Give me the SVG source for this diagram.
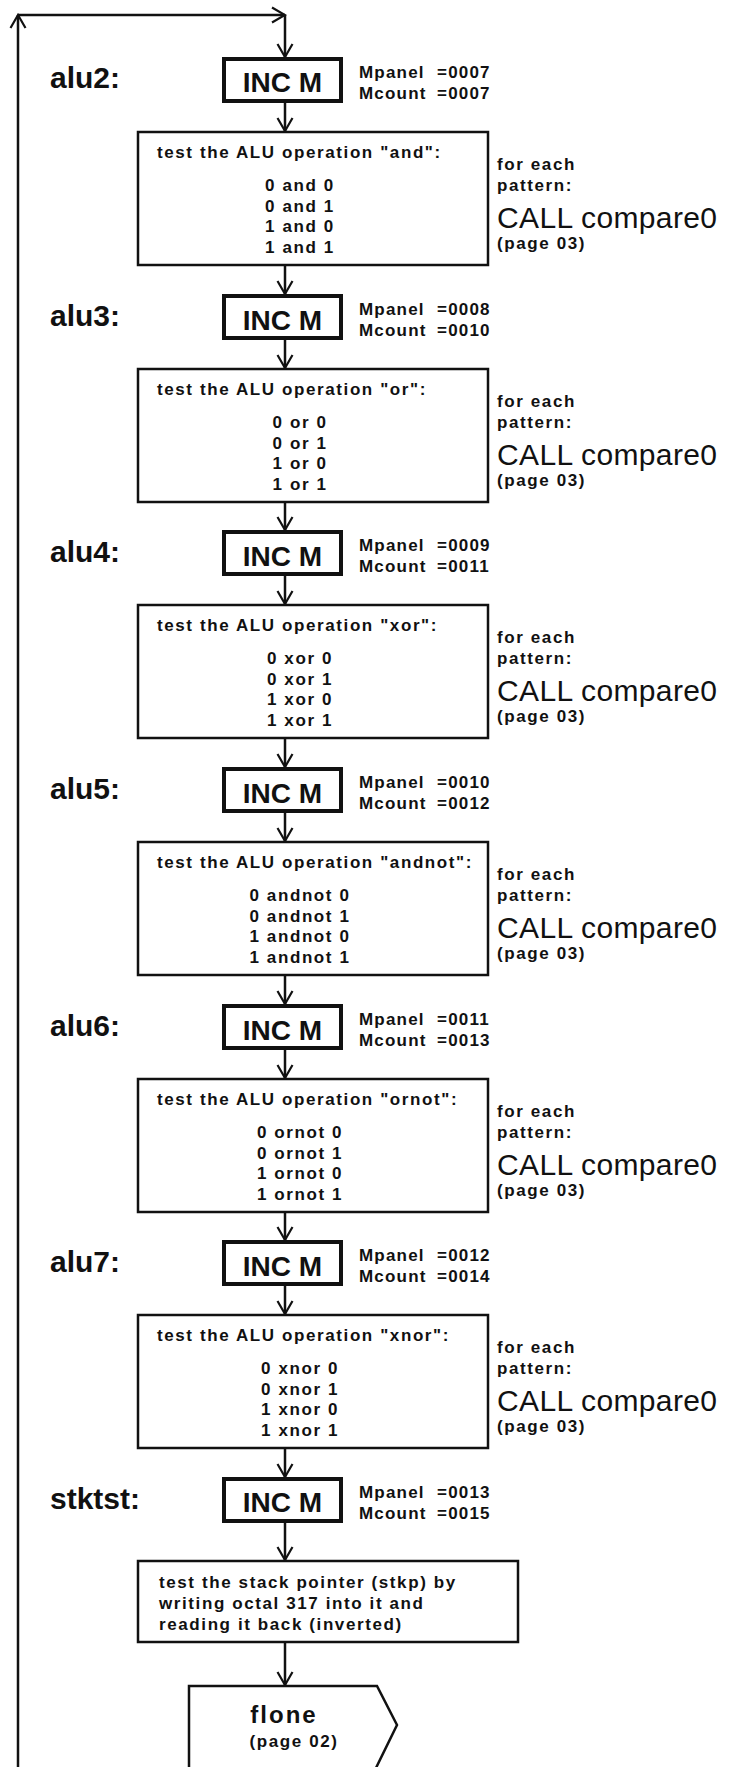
<svg xmlns="http://www.w3.org/2000/svg" width="738" height="1767" viewBox="0 0 738 1767">
<style>
text{font-family:"Liberation Sans",Arial,sans-serif;fill:#111}
.lbl{font-size:30px;font-weight:bold}
.inc{font-size:28px;font-weight:bold;text-anchor:middle}
.m{font-size:17px;font-weight:bold;letter-spacing:1.2px}
.t{font-size:17px;font-weight:bold;letter-spacing:1.6px}
.c{text-anchor:middle}
.call{font-size:30px}
.fl{font-size:24px;font-weight:bold;letter-spacing:2px;text-anchor:middle}
.ib{fill:#fff;stroke:#111;stroke-width:4}
.tb{fill:#fff;stroke:#111;stroke-width:2.5}
.conn path{fill:none;stroke:#111;stroke-width:2.5;marker-end:url(#ah)}
</style>
<defs>
<marker id="ah" viewBox="-16 -9 18 18" markerWidth="18" markerHeight="18" refX="0" refY="0" orient="auto" markerUnits="userSpaceOnUse">
<path d="M-13,-7.5 L0,0 L-13,7.5" fill="none" stroke="#111" stroke-width="2.2"/>
</marker>
</defs>
<rect width="738" height="1767" fill="#fff"/>

<g id="connectors" class="conn">
<path d="M18,1767 L18,15"/>
<path d="M18,15 L285,15"/>
<path d="M285,15 L285,57"/>
<path d="M285,103 L285,131"/>
<path d="M285,266 L285,294"/>
<path d="M285,340 L285,368"/>
<path d="M285,503 L285,530"/>
<path d="M285,576 L285,604"/>
<path d="M285,739 L285,767"/>
<path d="M285,813 L285,841"/>
<path d="M285,976 L285,1004"/>
<path d="M285,1050 L285,1078"/>
<path d="M285,1213 L285,1240"/>
<path d="M285,1286 L285,1314"/>
<path d="M285,1449 L285,1477"/>
<path d="M285,1523 L285,1560"/>
<path d="M285,1643 L285,1685"/>
</g>

<g id="alu2">
<text class="lbl" x="50" y="88">alu2:</text>
<rect class="ib" x="224" y="59" width="117" height="42"/>
<text class="inc" x="282.5" y="92">INC M</text>
<text class="m" x="359" y="78">Mpanel <tspan x="437">=0007</tspan></text>
<text class="m" x="359" y="99">Mcount <tspan x="437">=0007</tspan></text>
</g>
<g id="test-and">
<rect class="tb" x="138" y="132" width="350" height="133"/>
<text class="t" x="157" y="158">test the ALU operation "and":</text>
<text class="t c" x="300" y="191">0 and 0</text>
<text class="t c" x="300" y="211.5">0 and 1</text>
<text class="t c" x="300" y="232">1 and 0</text>
<text class="t c" x="300" y="252.5">1 and 1</text>
<text class="t" x="497" y="170">for each</text>
<text class="t" x="497" y="191">pattern:</text>
<text class="call" x="497" y="228" textLength="220">CALL compare0</text>
<text class="t" x="497" y="249">(page 03)</text>
</g>

<g id="alu3">
<text class="lbl" x="50" y="326">alu3:</text>
<rect class="ib" x="224" y="296" width="117" height="42"/>
<text class="inc" x="282.5" y="330">INC M</text>
<text class="m" x="359" y="315">Mpanel <tspan x="437">=0008</tspan></text>
<text class="m" x="359" y="336">Mcount <tspan x="437">=0010</tspan></text>
</g>
<g id="test-or">
<rect class="tb" x="138" y="369" width="350" height="133"/>
<text class="t" x="157" y="395">test the ALU operation "or":</text>
<text class="t c" x="300" y="428">0 or 0</text>
<text class="t c" x="300" y="448.5">0 or 1</text>
<text class="t c" x="300" y="469">1 or 0</text>
<text class="t c" x="300" y="489.5">1 or 1</text>
<text class="t" x="497" y="407">for each</text>
<text class="t" x="497" y="428">pattern:</text>
<text class="call" x="497" y="465" textLength="220">CALL compare0</text>
<text class="t" x="497" y="486">(page 03)</text>
</g>

<g id="alu4">
<text class="lbl" x="50" y="562">alu4:</text>
<rect class="ib" x="224" y="532" width="117" height="42"/>
<text class="inc" x="282.5" y="566">INC M</text>
<text class="m" x="359" y="551">Mpanel <tspan x="437">=0009</tspan></text>
<text class="m" x="359" y="572">Mcount <tspan x="437">=0011</tspan></text>
</g>
<g id="test-xor">
<rect class="tb" x="138" y="605" width="350" height="133"/>
<text class="t" x="157" y="631">test the ALU operation "xor":</text>
<text class="t c" x="300" y="664">0 xor 0</text>
<text class="t c" x="300" y="684.5">0 xor 1</text>
<text class="t c" x="300" y="705">1 xor 0</text>
<text class="t c" x="300" y="725.5">1 xor 1</text>
<text class="t" x="497" y="643">for each</text>
<text class="t" x="497" y="664">pattern:</text>
<text class="call" x="497" y="701" textLength="220">CALL compare0</text>
<text class="t" x="497" y="722">(page 03)</text>
</g>

<g id="alu5">
<text class="lbl" x="50" y="799">alu5:</text>
<rect class="ib" x="224" y="769" width="117" height="42"/>
<text class="inc" x="282.5" y="803">INC M</text>
<text class="m" x="359" y="788">Mpanel <tspan x="437">=0010</tspan></text>
<text class="m" x="359" y="809">Mcount <tspan x="437">=0012</tspan></text>
</g>
<g id="test-andnot">
<rect class="tb" x="138" y="842" width="350" height="133"/>
<text class="t" x="157" y="868">test the ALU operation "andnot":</text>
<text class="t c" x="300" y="901">0 andnot 0</text>
<text class="t c" x="300" y="921.5">0 andnot 1</text>
<text class="t c" x="300" y="942">1 andnot 0</text>
<text class="t c" x="300" y="962.5">1 andnot 1</text>
<text class="t" x="497" y="880">for each</text>
<text class="t" x="497" y="901">pattern:</text>
<text class="call" x="497" y="938" textLength="220">CALL compare0</text>
<text class="t" x="497" y="959">(page 03)</text>
</g>

<g id="alu6">
<text class="lbl" x="50" y="1036">alu6:</text>
<rect class="ib" x="224" y="1006" width="117" height="42"/>
<text class="inc" x="282.5" y="1040">INC M</text>
<text class="m" x="359" y="1025">Mpanel <tspan x="437">=0011</tspan></text>
<text class="m" x="359" y="1046">Mcount <tspan x="437">=0013</tspan></text>
</g>
<g id="test-ornot">
<rect class="tb" x="138" y="1079" width="350" height="133"/>
<text class="t" x="157" y="1105">test the ALU operation "ornot":</text>
<text class="t c" x="300" y="1138">0 ornot 0</text>
<text class="t c" x="300" y="1158.5">0 ornot 1</text>
<text class="t c" x="300" y="1179">1 ornot 0</text>
<text class="t c" x="300" y="1199.5">1 ornot 1</text>
<text class="t" x="497" y="1117">for each</text>
<text class="t" x="497" y="1138">pattern:</text>
<text class="call" x="497" y="1175" textLength="220">CALL compare0</text>
<text class="t" x="497" y="1196">(page 03)</text>
</g>

<g id="alu7">
<text class="lbl" x="50" y="1272">alu7:</text>
<rect class="ib" x="224" y="1242" width="117" height="42"/>
<text class="inc" x="282.5" y="1276">INC M</text>
<text class="m" x="359" y="1261">Mpanel <tspan x="437">=0012</tspan></text>
<text class="m" x="359" y="1282">Mcount <tspan x="437">=0014</tspan></text>
</g>
<g id="test-xnor">
<rect class="tb" x="138" y="1315" width="350" height="133"/>
<text class="t" x="157" y="1341">test the ALU operation "xnor":</text>
<text class="t c" x="300" y="1374">0 xnor 0</text>
<text class="t c" x="300" y="1394.5">0 xnor 1</text>
<text class="t c" x="300" y="1415">1 xnor 0</text>
<text class="t c" x="300" y="1435.5">1 xnor 1</text>
<text class="t" x="497" y="1353">for each</text>
<text class="t" x="497" y="1374">pattern:</text>
<text class="call" x="497" y="1411" textLength="220">CALL compare0</text>
<text class="t" x="497" y="1432">(page 03)</text>
</g>

<g id="stktst">
<text class="lbl" x="50" y="1509">stktst:</text>
<rect class="ib" x="224" y="1479" width="117" height="42"/>
<text class="inc" x="282.5" y="1512">INC M</text>
<text class="m" x="359" y="1498">Mpanel <tspan x="437">=0013</tspan></text>
<text class="m" x="359" y="1519">Mcount <tspan x="437">=0015</tspan></text>
</g>
<g id="test-stack">
<rect class="tb" x="138" y="1561" width="380" height="81"/>
<text class="t" x="159" y="1588">test the stack pointer (stkp) by</text>
<text class="t" x="159" y="1609">writing octal 317 into it and</text>
<text class="t" x="159" y="1630">reading it back (inverted)</text>
</g>

<g id="flone">
<path class="tb" d="M189,1686 L377,1686 L397,1725 L374,1772 L189,1772 Z"/>
<text class="fl" x="284" y="1723">flone</text>
<text class="t c" x="294" y="1747">(page 02)</text>
</g>
</svg>
